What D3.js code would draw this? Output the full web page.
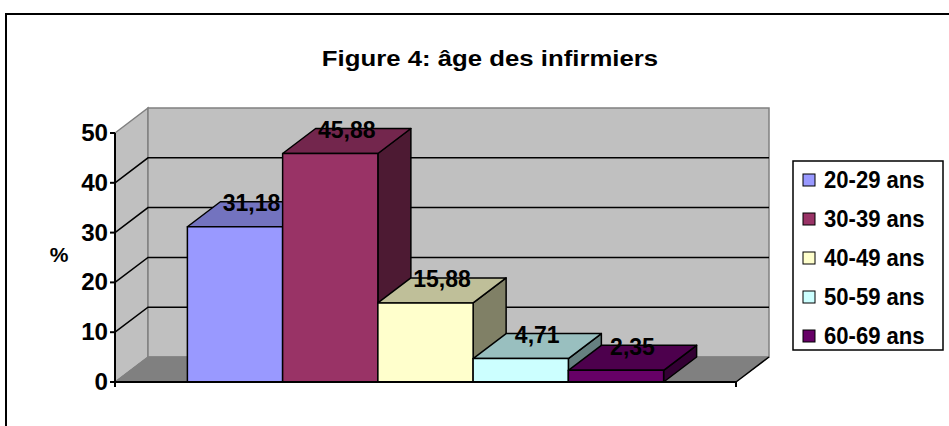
<!DOCTYPE html>
<html>
<head>
<meta charset="utf-8">
<script src="https://cdn.jsdelivr.net/npm/d3@7"></script>
<style>
  body { margin: 0; background: #fff; }
  svg text { font-family: "Liberation Sans", Arial, sans-serif; font-weight: bold; fill: #000; }
</style>
</head>
<body>
<svg id="chart" width="949" height="426"></svg>
<script>
// chart data
var categories = ["20-29 ans", "30-39 ans", "40-49 ans", "50-59 ans", "60-69 ans"];
var values = [31.18, 45.88, 15.88, 4.71, 2.35];
var valueLabels = ["31,18", "45,88", "15,88", "4,71", "2,35"];
var colors = ["#9999FF", "#993366", "#FFFFCC", "#CCFFFF", "#660066"];
var yTicks = [0, 10, 20, 30, 40, 50];
var title = "Figure 4: âge des infirmiers";
var yTitle = "%";

var svg = d3.select("#chart");

// 3d depth offset
var dx = 33, dy = 25;
var left = 115, right = 736, base = 382, topY = 133;

var y = d3.scaleLinear().domain([0, 50]).range([base, topY]);
var x = d3.scaleBand().domain(categories).range([left, right]).paddingInner(0).paddingOuter(0.76);

function shade(c, k) {
	var r = d3.rgb(c);
	return d3.rgb(r.r * k, r.g * k, r.b * k).formatHex();
}
function poly(pts) {
	return "M" + pts.map(function (p) { return p[0] + "," + p[1]; }).join("L") + "Z";
}
// text a bit stretched horizontally like the original
function label(g, txt, px, py, size, anchor, sx) {
	return g.append("text")
		.attr("transform", "translate(" + px + "," + py + ") scale(" + sx + ",1)")
		.attr("text-anchor", anchor)
		.style("font-size", size + "px")
		.text(txt);
}

// outer frame
svg.append("rect").attr("x", 6).attr("y", 14).attr("width", 1000).attr("height", 500)
	.attr("fill", "#fff").attr("stroke", "#000").attr("stroke-width", 2);

label(svg, title, 490, 66, 23, "middle", 1.12);

// walls and floor
var walls = svg.append("g");
walls.append("path")
	.attr("d", poly([[left, y(50)], [left + dx, y(50) - dy], [left + dx, base - dy], [left, base]]))
	.attr("fill", "#c0c0c0").attr("stroke", "#808080").attr("stroke-width", 1.5);
walls.append("path")
	.attr("d", poly([[left + dx, y(50) - dy], [right + dx, y(50) - dy], [right + dx, base - dy], [left + dx, base - dy]]))
	.attr("fill", "#c0c0c0").attr("stroke", "#808080").attr("stroke-width", 1.5);
walls.append("path")
	.attr("d", poly([[left, base], [left + dx, base - dy], [right + dx, base - dy], [right, base]]))
	.attr("fill", "#808080").attr("stroke", "#808080").attr("stroke-width", 1);
walls.append("line")
	.attr("x1", right).attr("y1", base).attr("x2", right + dx).attr("y2", base - dy)
	.attr("stroke", "#000").attr("stroke-width", 1.5);

// gridlines
walls.selectAll(".grid").data(yTicks.filter(function (d) { return d > 0 && d < 50; }))
	.enter().append("path")
	.attr("d", function (d) {
		return "M" + left + "," + y(d) + "L" + (left + dx) + "," + (y(d) - dy) + "L" + (right + dx) + "," + (y(d) - dy);
	})
	.attr("fill", "none").attr("stroke", "#000").attr("stroke-width", 1.5);

// bars, drawn left to right
var bars = svg.append("g");
categories.forEach(function (c, i) {
	var x0 = x(c), x1 = x(c) + x.bandwidth(), t = y(values[i]);
	var g = bars.append("g").attr("stroke", "#000").attr("stroke-width", 1.5).attr("stroke-linejoin", "round");
	g.append("path").attr("d", poly([[x1, t], [x1 + dx, t - dy], [x1 + dx, base - dy], [x1, base]]))
		.attr("fill", shade(colors[i], 0.5));
	g.append("path").attr("d", poly([[x0, t], [x0 + dx, t - dy], [x1 + dx, t - dy], [x1, t]]))
		.attr("fill", shade(colors[i], 0.75));
	g.append("rect").attr("x", x0).attr("y", t).attr("width", x1 - x0).attr("height", base - t)
		.attr("fill", colors[i]);
});

// value labels
categories.forEach(function (c, i) {
	var cx = x(c) + x.bandwidth() / 2 + dx / 2;
	var cy = y(values[i]) - dy / 2 - 11;
	label(svg, valueLabels[i], cx, cy + 8, 23, "middle", 1.0);
});

// axes
var axes = svg.append("g");
axes.append("line").attr("x1", left).attr("y1", topY).attr("x2", left).attr("y2", base + 5)
	.attr("stroke", "#000").attr("stroke-width", 2);
axes.append("line").attr("x1", left - 1).attr("y1", base).attr("x2", right).attr("y2", base)
	.attr("stroke", "#000").attr("stroke-width", 2);
axes.append("line").attr("x1", right).attr("y1", base).attr("x2", right).attr("y2", base + 5)
	.attr("stroke", "#000").attr("stroke-width", 2);
yTicks.forEach(function (d) {
	axes.append("line").attr("x1", left - 5).attr("y1", y(d)).attr("x2", left).attr("y2", y(d))
		.attr("stroke", "#000").attr("stroke-width", 2);
	label(axes, d, left - 7, y(d) + 8, 23, "end", 1.05);
});
label(axes, yTitle, 59, 262, 21, "middle", 1.0);

// legend
var lg = svg.append("g");
lg.append("rect").attr("x", 793).attr("y", 161).attr("width", 150).attr("height", 189)
	.attr("fill", "#fff").attr("stroke", "#000").attr("stroke-width", 1.5);
categories.forEach(function (c, i) {
	var by = 188 + i * 39;
	lg.append("rect").attr("x", 803).attr("y", by - 14).attr("width", 12).attr("height", 12)
		.attr("fill", colors[i]).attr("stroke", "#000").attr("stroke-width", 1);
	label(lg, c, 824, by, 23, "start", 0.96);
});
</script>
</body>
</html>
